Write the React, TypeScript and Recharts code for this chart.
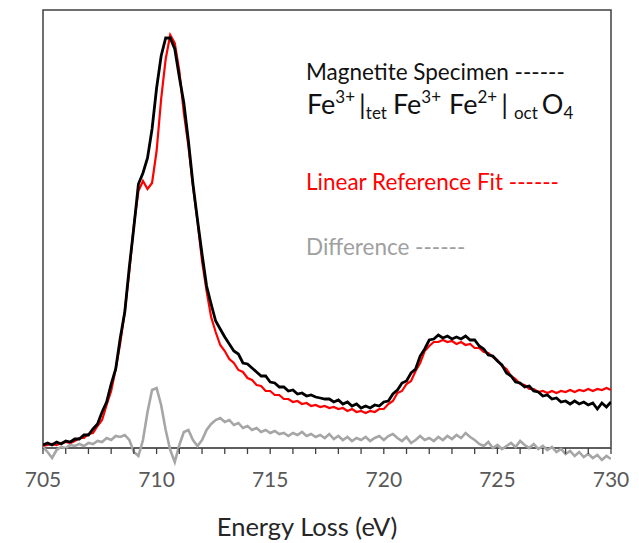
import React from 'react';
import { LineChart, Line, XAxis, YAxis, ReferenceLine, ReferenceArea } from 'recharts';

// energy loss grid (eV)
const energy = [
  705, 705.2, 705.4, 705.6, 705.8, 706, 706.2, 706.4, 706.6, 706.8,
  707, 707.2, 707.4, 707.6, 707.8, 708, 708.2, 708.4, 708.6, 708.8,
  709, 709.2, 709.4, 709.6, 709.8, 710, 710.2, 710.4, 710.6, 710.8,
  711, 711.2, 711.4, 711.6, 711.8, 712, 712.2, 712.4, 712.6, 712.8,
  713, 713.2, 713.4, 713.6, 713.8, 714, 714.2, 714.4, 714.6, 714.8,
  715, 715.2, 715.4, 715.6, 715.8, 716, 716.2, 716.4, 716.6, 716.8,
  717, 717.2, 717.4, 717.6, 717.8, 718, 718.2, 718.4, 718.6, 718.8,
  719, 719.2, 719.4, 719.6, 719.8, 720, 720.2, 720.4, 720.6, 720.8,
  721, 721.2, 721.4, 721.6, 721.8, 722, 722.2, 722.4, 722.6, 722.8,
  723, 723.2, 723.4, 723.6, 723.8, 724, 724.2, 724.4, 724.6, 724.8,
  725, 725.2, 725.4, 725.6, 725.8, 726, 726.2, 726.4, 726.6, 726.8,
  727, 727.2, 727.4, 727.6, 727.8, 728, 728.2, 728.4, 728.6, 728.8,
  729, 729.2, 729.4, 729.6, 729.8, 730,
];

// magnetite specimen (black)
const specimen = [
  3, 5, 3, 6, 4, 7, 6, 9, 9, 13,
  13, 19, 24, 36, 46, 64, 79, 110, 136, 181,
  221, 264, 275, 290, 319, 360, 392, 410, 410, 399,
  371, 345, 307, 264, 228, 194, 162, 144, 127, 119,
  111, 104, 97, 94, 85, 84, 80, 76, 72, 72,
  66, 65, 61, 61, 57, 58, 54, 55, 52, 53,
  51, 50, 49, 49, 46, 48, 44, 46, 42, 44,
  40, 42, 40, 43, 42, 46, 47, 54, 58, 65,
  67, 75, 79, 92, 99, 108, 109, 113, 110, 112,
  109, 111, 109, 112, 108, 108, 102, 99, 93, 92,
  87, 83, 75, 72, 66, 65, 61, 62, 57, 56,
  52, 53, 49, 50, 46, 47, 44, 47, 44, 46,
  43, 45, 39, 45, 41, 46,
];

// linear reference fit (red)
const linearFit = [
  2, 3, 4, 3, 5, 6, 5, 7, 10, 10,
  14, 15, 22, 28, 43, 57, 79, 105, 137, 177,
  223, 257, 267, 259, 265, 297, 349, 389, 413, 405,
  377, 335, 302, 262, 227, 187, 157, 131, 116, 103,
  97, 89, 85, 78, 76, 70, 68, 63, 62, 57,
  57, 53, 53, 49, 49, 46, 47, 44, 45, 42,
  43, 41, 42, 40, 41, 39, 40, 37, 39, 36,
  37, 35, 37, 36, 39, 39, 44, 47, 55, 57,
  64, 67, 77, 85, 97, 102, 106, 106, 108, 106,
  107, 104, 106, 103, 104, 100, 100, 96, 95, 91,
  88, 82, 79, 72, 69, 64, 63, 59, 59, 56,
  57, 55, 57, 55, 57, 56, 58, 56, 58, 57,
  59, 57, 59, 58, 60, 58,
];

// difference (grey)
const difference = [
  1, -4, -10, -2, 1, 0, 3, 2, 4, 2,
  5, 4, 7, 6, 10, 8, 12, 11, 13, 8,
  -4, -8, 8, 36, 58, 60, 43, 18, -2, -14,
  3, 16, 18, 8, 2, 8, 18, 24, 28, 30,
  26, 28, 23, 25, 20, 22, 18, 20, 16, 18,
  15, 17, 14, 15, 12, 15, 13, 16, 12, 14,
  11, 13, 10, 14, 9, 12, 8, 11, 7, 10,
  8, 11, 7, 10, 12, 8, 12, 14, 10, 7,
  11, 5, 8, 12, 8, 10, 7, 11, 8, 12,
  9, 13, 10, 15, 11, 8, 4, 2, 6, 0,
  3, -1, 2, 5, 1, 7, 3, 0, 4, -1,
  2, -2, 1, -4, -1, -6, -3, -8, -4, -9,
  -6, -10, -7, -12, -8, -11,
];

const xTicks = [
  705, 706, 707, 708, 709, 710, 711, 712, 713, 714, 715, 716, 717,
  718, 719, 720, 721, 722, 723, 724, 725, 726, 727, 728, 729, 730,
];

const data = energy.map((e, i) => ({
  e,
  specimen: specimen[i],
  fit: linearFit[i],
  diff: difference[i],
}));

const FONT = 'Lato, "Open Sans", sans-serif';

const AxisTick = (props: any) => {
  const { x, y, payload } = props;
  const v = payload.value;
  return (
    <g>
      <line x1={x} x2={x} y1={y - 25} y2={y - 19} stroke="#404040" strokeWidth={1.3} />
      {v % 5 === 0 && (
        <text x={x} y={y + 14} textAnchor="middle" fontSize={21} fill="#595959" fontFamily={FONT}>
          {v}
        </text>
      )}
    </g>
  );
};

export default function App() {
  return (
    <div style={{ position: 'absolute', left: 0, top: 0, width: 639, height: 543, background: '#fff' }}>
      <LineChart width={639} height={543} data={data} margin={{ top: 10, right: 28, bottom: 10, left: 43 }}>
        <XAxis
          dataKey="e"
          type="number"
          domain={[705, 730]}
          allowDataOverflow
          ticks={xTicks}
          interval={0}
          axisLine={false}
          tickLine={false}
          tickSize={0}
          tickMargin={0}
          height={60}
          tick={<AxisTick />}
        />
        <YAxis hide type="number" domain={[-25, 438]} allowDataOverflow />
        <ReferenceArea x1={705} x2={730} y1={0} y2={438} fill="none" stroke="#404040" strokeWidth={1.5} />
        <ReferenceLine y={0} stroke="#595959" strokeWidth={1.3} />
        <Line dataKey="fit" stroke="#ff0000" strokeWidth={2.2} dot={false} isAnimationActive={false} />
        <Line dataKey="specimen" stroke="#000000" strokeWidth={2.8} dot={false} isAnimationActive={false} />
        <Line dataKey="diff" stroke="#a6a6a6" strokeWidth={2.6} dot={false} isAnimationActive={false} />
      </LineChart>
      <svg
        width={639}
        height={543}
        style={{ position: 'absolute', left: 0, top: 0, pointerEvents: 'none' }}
        fontFamily={FONT}
      >
        <text x={306} y={80} fontSize={22.5} fill="#111">Magnetite Specimen ------</text>
        <text x={307} y={114} fontSize={27} fill="#111">
          <tspan>Fe</tspan>
          <tspan fontSize={17} dy={-11}>3+</tspan>
          <tspan dx={4} dy={11}>|</tspan>
          <tspan fontSize={17} dy={5}>tet</tspan>
          <tspan dx={6} dy={-5}>Fe</tspan>
          <tspan fontSize={17} dy={-11}>3+</tspan>
          <tspan dx={8} dy={11}>Fe</tspan>
          <tspan fontSize={17} dy={-11}>2+</tspan>
          <tspan dx={4} dy={11}>|</tspan>
          <tspan dx={6} fontSize={17} dy={5}>oct</tspan>
          <tspan dx={4} dy={-5}>O</tspan>
          <tspan fontSize={17} dy={5}>4</tspan>
        </text>
        <text x={306} y={190} fontSize={22.5} fill="#ff0000">Linear Reference Fit ------</text>
        <text x={306} y={255} fontSize={22.5} fill="#a0a0a0">Difference ------</text>
        <text x={307} y={536} textAnchor="middle" fontSize={25.5} fill="#262626">Energy Loss (eV)</text>
      </svg>
    </div>
  );
}
